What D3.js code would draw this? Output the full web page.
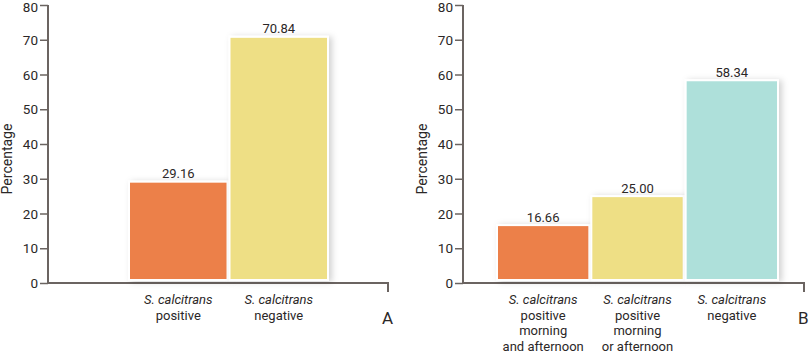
<!DOCTYPE html>
<html>
<head>
<meta charset="utf-8">
<script src="https://cdn.jsdelivr.net/npm/d3@7"></script>
<style>
  body { margin: 0; background: #fff; }
  text { font-family: Roboto, "Noto Sans", sans-serif; fill: #2b2727; }
</style>
</head>
<body>
<div id="container"></div>
<script>
let w = 811;
let h = 354;

// panel A data
let categoriesA = [["S. calcitrans", "positive"], ["S. calcitrans", "negative"]];
let valuesA = [29.16, 70.84];
let colorsA = ["#ec8048", "#eedf85"];

// panel B data
let categoriesB = [
  ["S. calcitrans", "positive", "morning", "and afternoon"],
  ["S. calcitrans", "positive", "morning", "or afternoon"],
  ["S. calcitrans", "negative"]
];
let valuesB = [16.66, 25.00, 58.34];
let colorsB = ["#ec8048", "#eedf85", "#aee0da"];

let yTicks = [0, 10, 20, 30, 40, 50, 60, 70, 80];
let axisColor = "#6b6461";

let viz = d3.select("#container")
  .append("svg")
    .attr("width", w)
    .attr("height", h);

// soft shadow behind the bars
let shadow = viz.append("defs").append("filter")
  .attr("id", "shadow")
  .attr("x", "-20%").attr("y", "-20%")
  .attr("width", "140%").attr("height", "140%");
shadow.append("feDropShadow")
  .attr("dx", 3).attr("dy", 1)
  .attr("stdDeviation", 3)
  .attr("flood-color", "#000")
  .attr("flood-opacity", 0.18);

let yScale = d3.scaleLinear().domain([0, 80]).range([283, 5]);

function drawPanel(opts){
  let g = viz.append("g");
  let cats = opts.categories.map(function(c, i){ return "c" + i; });
  let xScale = d3.scaleBand().domain(cats).range(opts.barRange).padding(0);

  // y axis
  let yAxis = d3.axisLeft(yScale).tickValues(yTicks).tickSize(8).tickFormat(d3.format("d"));
  let yAxisGroup = g.append("g")
    .attr("transform", "translate(" + opts.axisX + ",0)")
    .call(yAxis);
  yAxisGroup.select(".domain").remove();
  yAxisGroup.selectAll(".tick line").attr("stroke", axisColor).attr("stroke-width", 1.5);
  yAxisGroup.selectAll(".tick text")
    .attr("x", -10)
    .attr("dy", function(d){ return d == 80 ? "0.5em" : "0.34em"; })
    .style("font-size", "13.5px")
    .attr("fill", "#2b2727");
  g.append("line")
    .attr("x1", opts.axisX).attr("x2", opts.axisX)
    .attr("y1", yScale(80)).attr("y2", yScale(0))
    .attr("stroke", axisColor).attr("stroke-width", 2);

  // x axis line with a tick at its end
  g.append("path")
    .attr("d", "M" + opts.axisX + "," + yScale(0) + "H" + opts.axisEnd + "V" + (yScale(0) + 9))
    .attr("fill", "none")
    .attr("stroke", axisColor).attr("stroke-width", 2);

  // bars
  g.selectAll(".bar").data(opts.values).enter().append("rect")
    .attr("class", "bar")
    .attr("x", function(d, i){ return xScale(cats[i]) + 1; })
    .attr("width", xScale.bandwidth() - 2)
    .attr("y", function(d){ return yScale(d); })
    .attr("height", function(d){ return yScale(0) - yScale(d) - 3; })
    .attr("fill", function(d, i){ return opts.colors[i]; })
    .attr("stroke", "#fff")
    .attr("stroke-width", 2)
    .attr("filter", "url(#shadow)");

  // value labels
  g.selectAll(".val").data(opts.values).enter().append("text")
    .attr("class", "val")
    .attr("x", function(d, i){ return xScale(cats[i]) + xScale.bandwidth() / 2; })
    .attr("y", function(d){ return yScale(d) - 3.5; })
    .attr("text-anchor", "middle")
    .style("font-size", "13px")
    .text(function(d){ return d.toFixed(2); });

  // category labels
  opts.categories.forEach(function(lines, i){
    let t = g.append("text")
      .attr("text-anchor", "middle")
      .style("font-size", "13px");
    lines.forEach(function(line, j){
      t.append("tspan")
        .attr("x", xScale(cats[i]) + xScale.bandwidth() / 2)
        .attr("y", 304 + j * 15.6)
        .style("font-style", j == 0 ? "italic" : "normal")
        .text(line);
    });
  });

  // axis title
  g.append("text")
    .attr("transform", "translate(" + opts.titleX + "," + 159 + ") rotate(-90)")
    .attr("text-anchor", "middle")
    .style("font-size", "14px")
    .text("Percentage");

  // panel letter
  g.append("text")
    .attr("x", opts.letterX)
    .attr("y", 324)
    .style("font-size", "17px")
    .text(opts.letter);
}

drawPanel({
  categories: categoriesA, values: valuesA, colors: colorsA,
  axisX: 48, axisEnd: 388, barRange: [128, 329],
  titleX: 12, letter: "A", letterX: 382
});

drawPanel({
  categories: categoriesB, values: valuesB, colors: colorsB,
  axisX: 463, axisEnd: 804, barRange: [496, 779],
  titleX: 427, letter: "B", letterX: 798
});
</script>
</body>
</html>
